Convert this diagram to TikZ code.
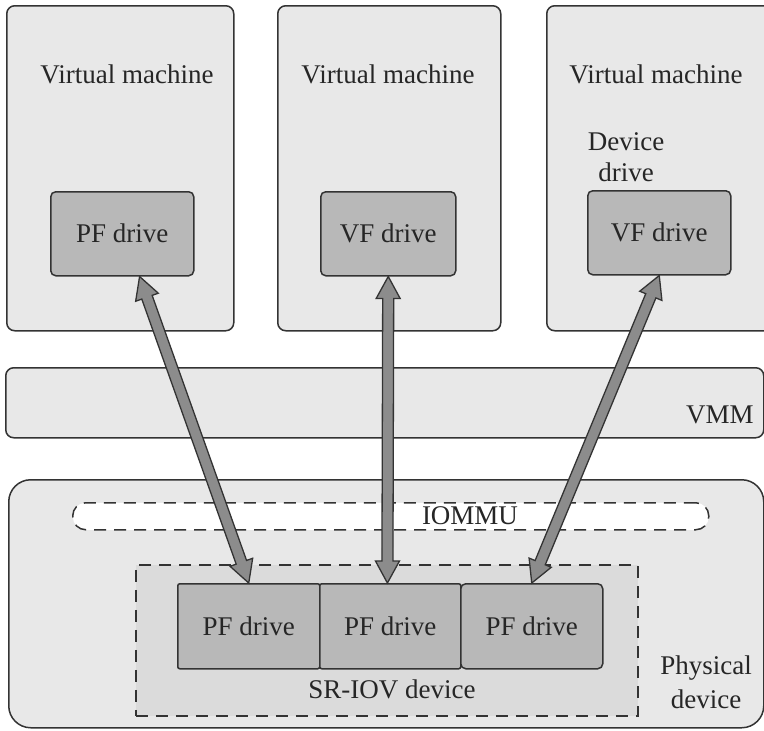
\documentclass[tikz,border=0pt]{standalone}
\usepackage{fontspec}
\setmainfont{Liberation Serif}
\usetikzlibrary{calc}
\definecolor{edge}{gray}{0.2}
\definecolor{vmfill}{gray}{0.91}
\definecolor{drvfill}{gray}{0.72}
\definecolor{srfill}{gray}{0.86}
\definecolor{arrfill}{gray}{0.55}
\tikzset{
  box/.style={draw=edge, line width=1.5pt, inner sep=0pt, anchor=north west, rounded corners=8pt, fill=vmfill},
  drv/.style={box, fill=drvfill, rounded corners=5pt},
  dashbox/.style={box, dash pattern=on 12pt off 8pt},
  lbl/.style={font=\fontsize{27}{30}\selectfont, inner sep=0pt, text=black!85},
  arrowshape/.style={draw=edge, line width=1.3pt, fill=arrfill, line join=miter}
}
\newcommand\fatarrow[2]{%
  \coordinate (fa1) at (#1);
  \coordinate (fa2) at (#2);
  \coordinate (h1) at ($(fa1)!22pt!(fa2)$);
  \coordinate (h2) at ($(fa2)!22pt!(fa1)$);
  \draw[arrowshape] (fa1) -- ($(h1)!12pt!90:(fa2)$) -- ($(h1)!5.5pt!90:(fa2)$)
    -- ($(h2)!5.5pt!-90:(fa1)$) -- ($(h2)!12pt!-90:(fa1)$) -- (fa2)
    -- ($(h2)!12pt!90:(fa1)$) -- ($(h2)!5.5pt!90:(fa1)$)
    -- ($(h1)!5.5pt!-90:(fa2)$) -- ($(h1)!12pt!-90:(fa2)$) -- cycle;
}
\begin{document}
\begin{tikzpicture}[x=1pt,y=-1pt]
\useasboundingbox[fill=white] (0,0) rectangle (764,731);
\begin{scope}
\clip (0,0) rectangle (764,731);
% virtual machines
\node[box, minimum width=227pt, minimum height=325pt] (vm1) at (6,5) {};
\node[box, minimum width=223pt, minimum height=325pt] (vm2) at (277,5) {};
\node[box, minimum width=240pt, minimum height=325pt] (vm3) at (546,5) {};
\node[lbl] (vm1t) at (127,74) {Virtual machine};
\node[lbl] (vm2t) at (388,74) {Virtual machine};
\node[lbl] (vm3t) at (656,74) {Virtual machine};
\node[lbl, align=center, font=\fontsize{27}{31}\selectfont] (devd) at (626,157) {Device\\drive};
% drivers in VMs
\node[drv, minimum width=143pt, minimum height=84pt] (vm1pf) at (50,191) {};
\node[lbl] at (vm1pf.center) {PF drive};
\node[drv, minimum width=135pt, minimum height=84pt] (vm2vf) at (320,191) {};
\node[lbl] at (vm2vf.center) {VF drive};
\node[drv, minimum width=143pt, minimum height=84pt] (vm3vf) at (587,190) {};
\node[lbl] at (vm3vf.center) {VF drive};
% VMM
\node[box, minimum width=758pt, minimum height=70pt] (vmm) at (5,367) {};
\node[lbl] (vmmt) at (720,415) {VMM};
% physical device
\node[box, rounded corners=22pt, minimum width=755pt, minimum height=248pt] (phys) at (8,479) {};
\node[lbl, align=center, font=\fontsize{27}{34}\selectfont] (physt) at (706,682) {Physical\\device};
% IOMMU
\node[dashbox, fill=white, rounded corners=13pt, minimum width=636pt, minimum height=27pt] (iommu) at (72,502) {};
\node[lbl] (iommut) at (470,516) {IOMMU};
% SR-IOV device
\node[dashbox, fill=srfill, rounded corners=0pt, minimum width=502pt, minimum height=151pt] (sriov) at (135,564) {};
\node[lbl] (sriovt) at (392,689) {SR-IOV device};
\node[drv, rounded corners=2pt, minimum width=142pt, minimum height=85pt] (sp1) at (177,583) {};
\node[lbl] at (sp1.center) {PF drive};
\node[drv, rounded corners=2pt, minimum width=141pt, minimum height=85pt] (sp2) at (319,583) {};
\node[lbl] at (sp2.center) {PF drive};
\node[drv, rounded corners=5pt, minimum width=142pt, minimum height=85pt] (sp3) at (460,583) {};
\node[lbl] at (sp3.center) {PF drive};
% arrows
\fatarrow{$(vm1pf.south west)!0.62!(vm1pf.south east)$}{sp1.north}
\fatarrow{vm2vf.south}{$(sp2.north west)!0.48!(sp2.north east)$}
\fatarrow{vm3vf.south}{sp3.north}
\end{scope}
\end{tikzpicture}
\end{document}
